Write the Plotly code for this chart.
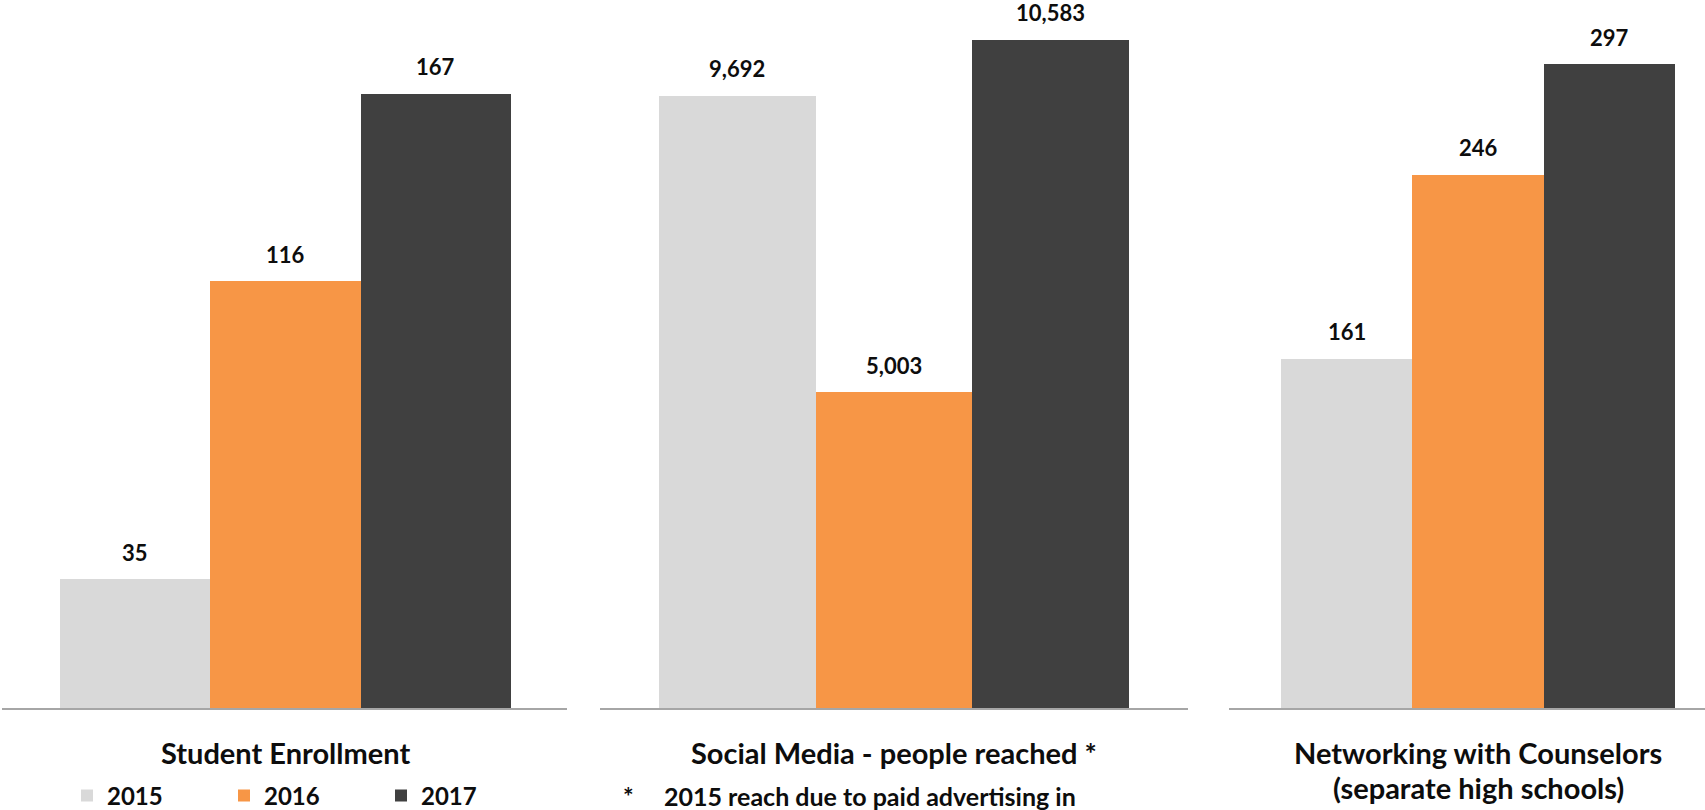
import plotly.graph_objects as go

# ---- data ----
years = ["2015", "2016", "2017"]
panel_titles = [
    ["Student Enrollment"],
    ["Social Media - people reached *"],
    ["Networking with Counselors", "(separate high schools)"],
]
student_enrollment = [35, 116, 167]
social_media_reach = [9692, 5003, 10583]
networking_counselors = [161, 246, 297]
footnote_mark = "*"
footnote_text = "2015 reach due to paid advertising in"

series = [student_enrollment, social_media_reach, networking_counselors]
colors = {"2015": "#D9D9D9", "2016": "#F79646", "2017": "#404040"}

FONT = "Lato"
W, H = 1705, 810

# layout geometry (pixels)
x_domains_px = [(2, 567), (600, 1188), (1229, 1705)]
x_ranges = [(-0.886, 2.873), (-0.877, 2.877), (-0.896, 2.728)]
y_ranges = [(0, 187.0), (0, 10895), (0, 317.3)]
base_px, top_px = 708, 20

fig = go.Figure()

for p, values in enumerate(series):
    ax = "" if p == 0 else str(p + 1)
    for i, yr in enumerate(years):
        fig.add_trace(go.Bar(
            x=[i], y=[values[i]], name=yr, width=1,
            marker=dict(color=colors[yr], line=dict(width=0)),
            xaxis="x" + ax, yaxis="y" + ax,
            showlegend=(p == 0), legendgroup=yr,
            hovertemplate=yr + ": %{y:,}<extra></extra>",
        ))
        fig.add_annotation(
            x=i, y=values[i], xref="x" + ax, yref="y" + ax,
            text=f"{values[i]:,}", showarrow=False,
            yanchor="middle", yshift=27,
            font=dict(family=FONT, size=22, color="#0D0D0D", weight="bold"),
        )
    # category title below axis
    for li, line in enumerate(panel_titles[p]):
        fig.add_annotation(
            x=(len(years) - 1) / 2, xref="x" + ax,
            y=1 - (752 + 35 * li) / H, yref="paper",
            text=line, showarrow=False, yanchor="middle",
            font=dict(family=FONT, size=29, color="#0D0D0D", weight="bold"),
        )

# footnote
fig.add_annotation(x=628 / W, y=1 - 796 / H, xref="paper", yref="paper",
                   text=footnote_mark, showarrow=False, xanchor="center", yanchor="middle",
                   font=dict(family=FONT, size=25, color="#0D0D0D", weight="bold"))
fig.add_annotation(x=662 / W, y=1 - 796 / H, xref="paper", yref="paper",
                   text=footnote_text, showarrow=False, xanchor="left", yanchor="middle",
                   font=dict(family=FONT, size=25, color="#0D0D0D", weight="bold"))

ydom = [1 - base_px / H, 1 - top_px / H]
layout_axes = {}
for p in range(3):
    suffix = "" if p == 0 else str(p + 1)
    d0, d1 = x_domains_px[p]
    layout_axes["xaxis" + suffix] = dict(
        domain=[d0 / W, d1 / W], range=list(x_ranges[p]), type="linear",
        showticklabels=False, ticks="", showgrid=False, zeroline=False,
        showline=True, linecolor="#A6A6A6", linewidth=2,
        anchor="y" + suffix, fixedrange=True,
    )
    layout_axes["yaxis" + suffix] = dict(
        domain=ydom, range=list(y_ranges[p]),
        showticklabels=False, ticks="", showline=False,
        showgrid=False, zeroline=False, anchor="x" + suffix, fixedrange=True,
    )

fig.update_layout(
    width=W, height=H,
    margin=dict(l=0, r=0, t=0, b=0, autoexpand=False),
    paper_bgcolor="white", plot_bgcolor="white",
    barmode="overlay", bargap=0,
    showlegend=True,
    legend=dict(
        orientation="h", x=67 / W, y=1 - 796 / H, xanchor="left", yanchor="middle",
        entrywidth=112, entrywidthmode="pixels",
        font=dict(family=FONT, size=24, color="#0D0D0D", weight="bold"),
        bgcolor="rgba(0,0,0,0)", itemclick=False, itemdoubleclick=False,
    ),
    **layout_axes,
)

fig.write_html("out.html")
